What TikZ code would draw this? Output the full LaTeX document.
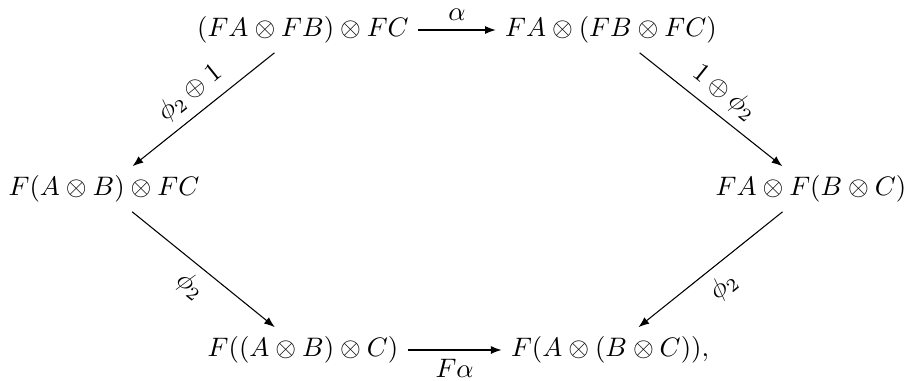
\documentclass[tikz,border=0pt]{standalone}
\usetikzlibrary{arrows.meta}
\begin{document}
\begin{tikzpicture}[x=0.374pt,y=-0.374pt,
  obj/.style={inner sep=3.33pt},
  mor/.style={-{Latex[length=4pt,width=3pt]}, line width=0.4pt},
  lab/.style={font=\normalsize}]
\useasboundingbox (0,0) rectangle (908,380);
\node[obj] (tl) at (303,30) {$(FA\otimes FB)\otimes FC$};
\node[obj] (tr) at (611,30) {$FA\otimes(FB\otimes FC)$};
\node[obj] (ml) at (104,189) {$F(A\otimes B)\otimes FC$};
\node[obj] (mr) at (811,189) {$FA\otimes F(B\otimes C)$};
\node[obj] (bl) at (303,350) {$F((A\otimes B)\otimes C)$};
\node[obj] (br) at (610,350) {$F(A\otimes(B\otimes C)),$};
\draw[mor] (tl) -- node[above] {$\alpha$} (tr);
\draw[mor] (tl) -- node[sloped,above] {$\phi_2\oplus 1$} (ml);
\draw[mor] (tr) -- node[sloped,above] {$1\oplus\phi_2$} (mr);
\draw[mor] (ml) -- node[sloped,below] {$\phi_2$} (bl);
\draw[mor] (mr) -- node[sloped,below] {$\phi_2$} (br);
\draw[mor] (bl) -- node[below] {$F\alpha$} (br);
\end{tikzpicture}
\end{document}
